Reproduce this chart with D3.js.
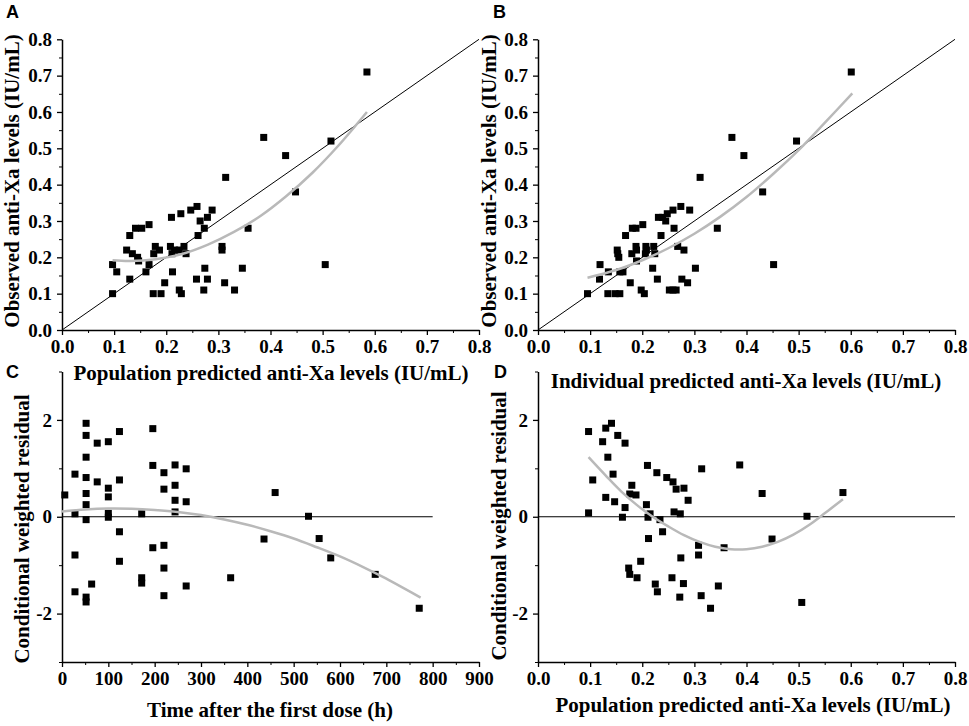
<!DOCTYPE html>
<html>
<head>
<meta charset="utf-8">
<script src="https://cdn.jsdelivr.net/npm/d3@7"></script>
<style>
body { margin: 0; background: #fff; }
svg text { font-family: "Liberation Serif", "Times New Roman", serif; font-weight: bold; fill: #000; }
svg text.tag { font-family: "Liberation Sans", Arial, sans-serif; }
</style>
</head>
<body>
<div id="chart"></div>
<script>
// A: observed vs population predicted
var aPred = [0.097,0.097,0.105,0.124,0.130,0.130,0.135,0.141,0.145,0.147,0.153,0.167,0.167,0.161,0.175,0.176,0.179,0.187,0.190,0.197,
  0.210,0.208,0.211,0.212,0.216,0.225,0.225,0.228,0.229,0.234,0.238,0.247,0.258,0.259,0.261,0.265,0.272,0.273,0.274,0.279,
  0.279,0.288,0.307,0.307,0.312,0.314,0.331,0.346,0.357,0.387,0.429,0.448,0.505,0.516,0.585];
var aObs = [0.18,0.10,0.16,0.22,0.26,0.14,0.21,0.28,0.20,0.19,0.28,0.29,0.18,0.16,0.10,0.21,0.23,0.22,0.10,0.13,
  0.31,0.23,0.21,0.16,0.22,0.22,0.11,0.32,0.10,0.23,0.21,0.33,0.14,0.34,0.26,0.30,0.11,0.28,0.17,0.31,
  0.14,0.33,0.23,0.22,0.13,0.42,0.11,0.17,0.28,0.53,0.48,0.38,0.18,0.52,0.71];
var aFitX = [0.097,0.13,0.18,0.23,0.28,0.33,0.38,0.43,0.48,0.53,0.585];
var aFitY = [0.192,0.190,0.195,0.209,0.235,0.270,0.313,0.368,0.432,0.507,0.600];

// B: observed vs individual predicted
var bIpred = [0.095,0.119,0.118,0.135,0.134,0.148,0.157,0.152,0.153,0.155,0.157,0.163,0.168,0.177,0.180,0.181,0.188,0.188,0.189,0.189,
  0.198,0.201,0.204,0.207,0.208,0.206,0.220,0.222,0.224,0.229,0.231,0.236,0.239,0.245,0.248,0.252,0.259,0.261,0.259,0.265,
  0.268,0.274,0.276,0.280,0.287,0.291,0.302,0.311,0.344,0.372,0.395,0.431,0.452,0.496,0.601];
var bObs = [0.10,0.18,0.14,0.16,0.10,0.10,0.10,0.22,0.21,0.20,0.16,0.16,0.26,0.13,0.21,0.28,0.28,0.23,0.22,0.19,
  0.11,0.29,0.10,0.23,0.22,0.21,0.17,0.23,0.21,0.14,0.31,0.26,0.31,0.30,0.32,0.11,0.33,0.28,0.11,0.11,
  0.23,0.34,0.14,0.22,0.13,0.33,0.17,0.42,0.28,0.53,0.48,0.38,0.18,0.52,0.71];
var bFitX = [0.095,0.15,0.20,0.25,0.30,0.35,0.40,0.45,0.50,0.55,0.603];
var bFitY = [0.144,0.165,0.192,0.225,0.265,0.312,0.366,0.428,0.495,0.570,0.651];

// C: CWRES vs time after first dose
var cTime = [6,28,28,28,28,52,52,52,52,52,52,52,52,52,64,76,76,100,100,100,100,100,124,124,124,124,
  172,172,172,196,196,196,220,220,220,220,220,244,244,244,244,268,268,268,364,436,460,532,555,580,676,771];
var cCwres = [0.45,0.88,0.06,-0.79,-1.55,1.93,1.68,1.23,0.81,0.48,0.25,-0.06,-1.66,-1.76,-1.39,1.52,0.72,1.55,0.59,0.41,0.07,-0.01,1.76,0.76,-0.31,-0.92,
  0.06,-1.26,-1.37,1.82,1.06,-0.64,0.91,0.57,-0.59,-1.06,-1.63,1.07,0.65,0.34,0.10,0.99,0.31,-1.43,-1.26,-0.46,0.50,0.01,-0.45,-0.85,-1.19,-1.89];
var cFitX = [0,50,100,150,200,250,300,350,400,450,500,550,600,650,700,774];
var cFitY = [0.11,0.15,0.17,0.165,0.14,0.10,0.035,-0.055,-0.165,-0.30,-0.45,-0.63,-0.82,-1.04,-1.28,-1.67];

// D: CWRES vs population predicted
var dPred = [0.097,0.097,0.105,0.124,0.130,0.130,0.134,0.141,0.144,0.147,0.153,0.162,0.167,0.167,0.174,0.176,0.176,0.180,0.188,0.190,
  0.197,0.208,0.210,0.211,0.212,0.215,0.225,0.228,0.229,0.234,0.239,0.247,0.257,0.259,0.261,0.265,0.272,0.273,0.274,0.279,
  0.280,0.288,0.308,0.308,0.313,0.314,0.331,0.346,0.357,0.387,0.430,0.449,0.506,0.516,0.585];
var dCwres = [1.76,0.08,0.76,1.55,1.83,0.40,1.23,1.93,0.88,0.31,1.68,-0.01,1.52,0.19,-1.06,0.47,-1.19,0.65,0.45,-1.26,
  -0.92,0.25,1.06,-0.01,-0.45,0.06,-1.39,0.91,-1.55,-0.06,-0.31,0.81,-1.26,0.72,0.10,0.57,-1.66,0.06,-0.85,-1.38,
  0.59,0.34,-0.59,-0.79,-1.63,0.99,-1.89,-1.43,-0.64,1.07,0.48,-0.46,-1.77,0.01,0.50];
var dFitX = [0.097,0.13,0.16,0.19,0.22,0.25,0.28,0.31,0.34,0.37,0.40,0.43,0.46,0.49,0.52,0.55,0.585];
var dFitY = [1.23,0.85,0.52,0.24,0.0,-0.2,-0.38,-0.52,-0.62,-0.67,-0.67,-0.62,-0.52,-0.37,-0.17,0.07,0.36];

// ticks and reference lines
var concTicks = [0,0.1,0.2,0.3,0.4,0.5,0.6,0.7,0.8];
var concMinor = [0.05,0.15,0.25,0.35,0.45,0.55,0.65,0.75];
var timeTicks = [0,100,200,300,400,500,600,700,800,900];
var timeMinor = [50,150,250,350,450,550,650,750,850];
var resTicks = [-2,0,2];
var resMinor = [-3,-1,1,3];
var identityLine = [0,0.8];
var zeroLineC = [0,800];
var zeroLineD = [0,0.8];

var svg = d3.select('#chart').append('svg')
    .attr('width', 969)
    .attr('height', 726)
    .style('background', '#fff');

function drawPanel(p) {
  var g = svg.append('g');
  var y0 = p.y.range()[0];
  var x0 = p.x.range()[0];

  // minor ticks
  g.append('g')
      .attr('transform', `translate(0,${y0})`)
      .call(d3.axisBottom(p.x).tickValues(p.xMinor).tickSize(3).tickFormat(''))
      .call(function(s) { s.select('.domain').remove(); });
  g.append('g')
      .attr('transform', `translate(${x0},0)`)
      .call(d3.axisLeft(p.y).tickValues(p.yMinor).tickSize(3).tickFormat(''))
      .call(function(s) { s.select('.domain').remove(); });

  var xa = g.append('g')
      .attr('transform', `translate(0,${y0})`)
      .call(d3.axisBottom(p.x).tickValues(p.xTicks).tickSize(5).tickSizeOuter(0).tickPadding(5).tickFormat(p.xFmt));
  var ya = g.append('g')
      .attr('transform', `translate(${x0},0)`)
      .call(d3.axisLeft(p.y).tickValues(p.yTicks).tickSize(5).tickSizeOuter(0).tickPadding(5).tickFormat(p.yFmt));
  [xa, ya].forEach(function(a) {
    a.attr('font-family', null).attr('font-size', null);
    a.selectAll('text').style('font-size', '19px');
    a.selectAll('line').attr('stroke-width', 1.3);
    a.select('.domain').attr('stroke-width', 1.5);
  });

  // reference line
  g.append('line')
      .attr('x1', p.x(p.ref[0])).attr('y1', p.y(p.refY[0]))
      .attr('x2', p.x(p.ref[1])).attr('y2', p.y(p.refY[1]))
      .attr('stroke', '#000').attr('stroke-width', 1);

  g.selectAll('rect.pt')
      .data(p.xs.map(function(d, i) { return [d, p.ys[i]]; }))
      .enter().append('rect')
      .attr('class', 'pt')
      .attr('x', function(d) { return p.x(d[0]) - 3.5; })
      .attr('y', function(d) { return p.y(d[1]) - 3.5; })
      .attr('width', 7)
      .attr('height', 7)
      .attr('fill', '#000');

  var line = d3.line()
      .x(function(d) { return p.x(d[0]); })
      .y(function(d) { return p.y(d[1]); })
      .curve(d3.curveCatmullRom);
  g.append('path')
      .datum(p.fx.map(function(d, i) { return [d, p.fy[i]]; }))
      .attr('d', line)
      .attr('fill', 'none')
      .attr('stroke', '#b9b9b9')
      .attr('stroke-width', 2.5);

  g.append('text')
      .attr('x', p.xt[0]).attr('y', p.xt[1])
      .attr('text-anchor', 'middle')
      .style('font-size', '21px')
      .text(p.xTitle);
  g.append('text')
      .attr('transform', `translate(${p.yt[0]},${p.yt[1]})rotate(-90)`)
      .attr('text-anchor', 'middle')
      .style('font-size', '21px')
      .text(p.yTitle);
  g.append('text')
      .attr('class', 'tag')
      .attr('x', p.tag[0]).attr('y', p.tag[1])
      .style('font-size', '18px')
      .text(p.label);
}

var conc = d3.format('.1f');
var plain = function(d) { return String(d); };

drawPanel({
  label: 'A', tag: [6, 18],
  x: d3.scaleLinear([0, 0.8], [62, 479]), y: d3.scaleLinear([0, 0.8], [330, 39.3]),
  xTicks: concTicks, xMinor: concMinor, yTicks: concTicks, yMinor: concMinor, xFmt: conc, yFmt: conc,
  ref: identityLine, refY: identityLine,
  xs: aPred, ys: aObs, fx: aFitX, fy: aFitY,
  xTitle: 'Population predicted anti-Xa levels (IU/mL)', xt: [271, 380],
  yTitle: 'Observed anti-Xa levels (IU/mL)', yt: [19, 181]
});

drawPanel({
  label: 'B', tag: [493, 18],
  x: d3.scaleLinear([0, 0.8], [538, 955]), y: d3.scaleLinear([0, 0.8], [330, 39.3]),
  xTicks: concTicks, xMinor: concMinor, yTicks: concTicks, yMinor: concMinor, xFmt: conc, yFmt: conc,
  ref: identityLine, refY: identityLine,
  xs: bIpred, ys: bObs, fx: bFitX, fy: bFitY,
  xTitle: 'Individual predicted anti-Xa levels (IU/mL)', xt: [746, 388],
  yTitle: 'Observed anti-Xa levels (IU/mL)', yt: [496, 181]
});

drawPanel({
  label: 'C', tag: [6, 378],
  x: d3.scaleLinear([0, 900], [62, 479]), y: d3.scaleLinear([-3, 3], [662, 371.5]),
  xTicks: timeTicks, xMinor: timeMinor, yTicks: resTicks, yMinor: resMinor, xFmt: plain, yFmt: plain,
  ref: zeroLineC, refY: [0, 0],
  xs: cTime, ys: cCwres, fx: cFitX, fy: cFitY,
  xTitle: 'Time after the first dose (h)', xt: [270, 717],
  yTitle: 'Conditional weighted residual', yt: [29, 529]
});

drawPanel({
  label: 'D', tag: [494, 378],
  x: d3.scaleLinear([0, 0.8], [538, 955]), y: d3.scaleLinear([-3, 3], [662, 371.5]),
  xTicks: concTicks, xMinor: concMinor, yTicks: resTicks, yMinor: resMinor, xFmt: conc, yFmt: plain,
  ref: zeroLineD, refY: [0, 0],
  xs: dPred, ys: dCwres, fx: dFitX, fy: dFitY,
  xTitle: 'Population predicted anti-Xa levels (IU/mL)', xt: [753, 712],
  yTitle: 'Conditional weighted residual', yt: [506, 526]
});
</script>
</body>
</html>
